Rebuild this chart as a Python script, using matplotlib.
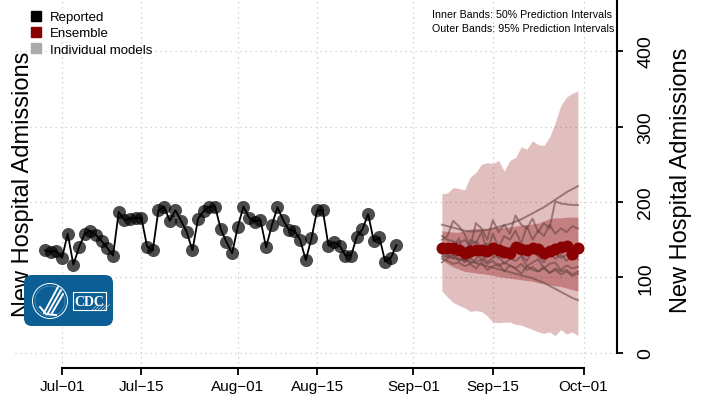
import numpy as np
import pandas as pd
import matplotlib
matplotlib.use("Agg")
import matplotlib.pyplot as plt
import matplotlib.dates as mdates
import matplotlib.lines as mlines
from matplotlib.patches import FancyBboxPatch, Circle, Rectangle

plt.rcParams["font.family"] = ["Liberation Sans", "DejaVu Sans"]

# --- data ----------------------------------------------------------------------------------------
REPORTED_START = "2024-06-28"
reported = [136, 134, 135, 126, 158, 117, 140, 158, 162, 156, 148, 139, 129, 187, 176, 178,
            179, 179, 141, 136, 189, 194, 175, 189, 175, 160, 136, 178, 188, 194, 194,
            164, 147, 132, 167, 194, 179, 174, 176, 140, 169, 193, 176, 163, 162, 150,
            123, 152, 189, 189, 142, 147, 142, 129, 129, 154, 164, 184, 148, 153, 121, 126, 143]

FORECAST_START = "2024-09-06"
ensemble = [139, 139, 139, 137, 133, 135, 136, 137, 135, 139, 137, 134, 133, 140, 138, 136,
            139, 138, 132, 135, 138, 140, 142, 131, 139]
hi95 = [211, 212, 219, 218, 216, 233, 239, 250, 252, 251, 255, 241, 255, 259, 273, 270,
        281, 276, 275, 286, 305, 328, 339, 344, 347]
lo95 = [82, 74, 67, 63, 60, 55, 56, 55, 49, 41, 40, 41, 41, 38, 37, 34, 31, 28, 26, 28,
        23, 31, 25, 28, 23]
hi50 = [162, 161, 160, 160, 162, 164, 165, 165, 165, 166, 166, 166, 167, 168, 169, 170,
        171, 172, 175, 178, 179, 179, 180, 180, 180]
lo50 = [124, 118, 114, 111, 108, 107, 106, 105, 104, 103, 101, 100, 99, 98, 97, 96, 95,
        93, 92, 90, 89, 88, 86, 84, 82]

# individual model forecasts
model_a = [170, 168, 166, 164, 162, 161, 161, 162, 163, 165, 167, 169, 171, 174, 177, 181,
           185, 189, 193, 198, 203, 208, 213, 217, 221]
model_b = [128, 127, 126, 124, 123, 121, 119, 117, 115, 113, 111, 109, 107, 105, 103, 101,
           99, 96, 93, 89, 85, 81, 77, 73, 70]
model_c = [150, 155, 175, 168, 158, 140, 172, 165, 150, 176, 160, 170, 158, 182, 170, 165,
           178, 160, 172, 165, 201, 198, 197, 196, 196]
model_d = [145, 140, 138, 152, 128, 150, 145, 160, 135, 158, 140, 155, 150, 162, 145, 168,
           150, 162, 155, 170, 158, 165, 160, 168, 165]
model_e = [135, 130, 125, 138, 120, 128, 140, 122, 130, 136, 125, 140, 128, 135, 145, 130,
           142, 128, 138, 132, 140, 136, 145, 138, 142]
model_f = [140, 142, 135, 130, 140, 125, 135, 130, 142, 128, 140, 132, 125, 138, 130, 122,
           135, 128, 120, 132, 125, 130, 122, 128, 124]
model_g = [125, 122, 118, 120, 115, 118, 112, 120, 110, 115, 118, 108, 116, 112, 105, 115,
           110, 108, 114, 106, 112, 108, 110, 104, 108]
model_h = [132, 128, 130, 125, 122, 126, 120, 124, 118, 122, 115, 120, 116, 112, 118, 110,
           114, 108, 112, 106, 110, 104, 108, 102, 105]
model_i = [155, 150, 148, 145, 150, 142, 148, 140, 145, 138, 142, 136, 140, 134, 138, 132,
           136, 130, 134, 128, 132, 126, 130, 124, 128]
model_j = [120, 125, 130, 122, 128, 118, 124, 132, 120, 126, 130, 118, 125, 122, 128, 115,
           120, 124, 112, 118, 120, 110, 116, 112, 114]

X_TICKS = ["2024-07-01", "2024-07-15", "2024-08-01", "2024-08-15",
           "2024-09-01", "2024-09-15", "2024-10-01"]
X_TICK_LABELS = ["Jul\u221201", "Jul\u221215", "Aug\u221201", "Aug\u221215",
                 "Sep\u221201", "Sep\u221215", "Oct\u221201"]
Y_TICKS = [0, 100, 200, 300, 400]
YLABEL = "New Hospital Admissions"

# --- styles --------------------------------------------------------------------------------------
W, H = 707, 402
DARKRED = "#8b0000"
MODEL_COL = (0.42, 0.27, 0.27)
GRID_COL = "#c8c8c8"
CDC_BLUE = "#0b5f95"


def ix(x):
    # pixel column -> inches from the left
    return x / 100.0


def iy(y):
    # pixel row (from the top) -> inches from the bottom
    return (H - y) / 100.0


# --- figure --------------------------------------------------------------------------------------
fig = plt.figure(figsize=(W / 100, H / 100), dpi=100)
ax = fig.add_axes([15 / W, 33 / H, 602 / W, 369 / H])

rep_dates = pd.date_range(REPORTED_START, periods=len(reported), freq="D")
fc_dates = pd.date_range(FORECAST_START, periods=len(ensemble), freq="D")
t0 = mdates.date2num(pd.Timestamp("2024-07-01"))
ax.set_xlim(t0 - 8.3, t0 + 97.9)
ax.set_ylim(-19.9, 468.9)

# prediction bands
ax.fill_between(fc_dates, lo95, hi95, color=DARKRED, alpha=0.25, lw=0, zorder=1)
ax.fill_between(fc_dates, lo50, hi50, color=DARKRED, alpha=0.33, lw=0, zorder=1.1)

for run in (model_a, model_b, model_c, model_d, model_e, model_f, model_g, model_h,
            model_i, model_j):
    ax.plot(fc_dates, run, color=MODEL_COL, alpha=0.6, lw=1.4, zorder=2)

ax.plot(fc_dates, ensemble, color=DARKRED, lw=1.2, zorder=3)
ax.plot(fc_dates, ensemble, "o", color=DARKRED, ms=8.6, mec="none", zorder=3.1)

ax.plot(rep_dates, reported, color="black", lw=1.3, zorder=4)
ax.plot(rep_dates, reported, "o", color="black", alpha=0.7, ms=9.4, mec="none", zorder=4.1)

# axes and grid
xt = mdates.date2num(pd.to_datetime(X_TICKS))
ax.set_xticks(xt)
ax.set_xticklabels(X_TICK_LABELS)
ax.set_yticks(Y_TICKS)
ax.yaxis.tick_right()
ax.set_axisbelow(True)
ax.grid(True, color=GRID_COL, linestyle=(0, (1, 3)), lw=0.9)

for side in ("left", "top"):
    ax.spines[side].set_visible(False)
ax.spines["right"].set_bounds(0, 468.9)
ax.spines["bottom"].set_bounds(xt[0], xt[-1])
for side in ("right", "bottom"):
    ax.spines[side].set_linewidth(1.5)

ax.tick_params(axis="x", direction="out", length=5, width=1.3, labelsize=11, pad=3)
ax.tick_params(axis="y", direction="out", length=4, width=1.3, labelsize=14,
               labelrotation=90, pad=10.5)
for lab in ax.get_yticklabels():
    lab.set_va("center")

# axis titles, left one sits behind the legend and logo
fig.text(681 / W, 1 - 180 / H, YLABEL, rotation=90,
         ha="center", va="center", fontsize=17)
fig.text(23 / W, 1 - 184 / H, YLABEL, rotation=90,
         ha="center", va="center", fontsize=17, zorder=3)

fig.text(432 / W, 1 - 15 / H, "Inner Bands: 50% Prediction Intervals",
         ha="left", va="center", fontsize=7.7)
fig.text(432 / W, 1 - 29 / H, "Outer Bands: 95% Prediction Intervals",
         ha="left", va="center", fontsize=7.7)

# legend
handles = [
    mlines.Line2D([], [], marker="s", linestyle="none", color=c, markersize=7.5, label=l)
    for c, l in (("black", "Reported"), (DARKRED, "Ensemble"), ("#aaaaaa", "Individual models"))
]
ax.legend(handles=handles, loc="upper left", bbox_to_anchor=(29 / W, 1 - 12 / H),
          bbox_transform=fig.transFigure, frameon=False, fontsize=9.5,
          handlelength=1.0, handletextpad=0.6, labelspacing=0.3,
          borderpad=0, borderaxespad=0)

# CDC badge
tr = fig.dpi_scale_trans
fig.add_artist(FancyBboxPatch((ix(24), iy(327)), ix(89), 0.51,
                              boxstyle="round,pad=0,rounding_size=0.08",
                              fc=CDC_BLUE, ec="none", transform=tr, zorder=6))
fig.add_artist(Circle((ix(50), iy(302)), 0.175, fill=False, ec="white", lw=0.7,
                      transform=tr, zorder=7))
fig.add_artist(Circle((ix(50), iy(302)), 0.15, fill=False, ec="white", lw=0.3,
                      ls=(0, (1, 1)), transform=tr, zorder=7))
for (x0, y0, x1, y1) in ((44, 314, 58, 288), (48, 314, 61, 291), (52, 314, 63, 295)):
    fig.add_artist(mlines.Line2D([ix(x0), ix(x1)], [iy(y0), iy(y1)], color="white",
                                 lw=1.4, solid_capstyle="round", transform=tr, zorder=7))
fig.add_artist(mlines.Line2D([ix(40), ix(46), ix(56)], [iy(308), iy(315), iy(316)],
                             color="white", lw=1.4, transform=tr, zorder=7))
fig.add_artist(Rectangle((ix(73), iy(311)), ix(33), 0.18, fill=False, ec="white", lw=0.8,
                         transform=tr, zorder=7))
for k in range(5):
    fig.add_artist(mlines.Line2D([ix(92 + 3 * k), ix(98 + 3 * k)], [iy(311), iy(305)],
                                 color="white", lw=0.3, transform=tr, zorder=7))
fig.text(89.5 / W, 1 - 302 / H, "CDC", color="white",
         ha="center", va="center", fontsize=10, fontweight="bold",
         family=["Liberation Serif", "DejaVu Serif"], zorder=8)

fig.savefig("out.png", dpi=100, facecolor="white")
